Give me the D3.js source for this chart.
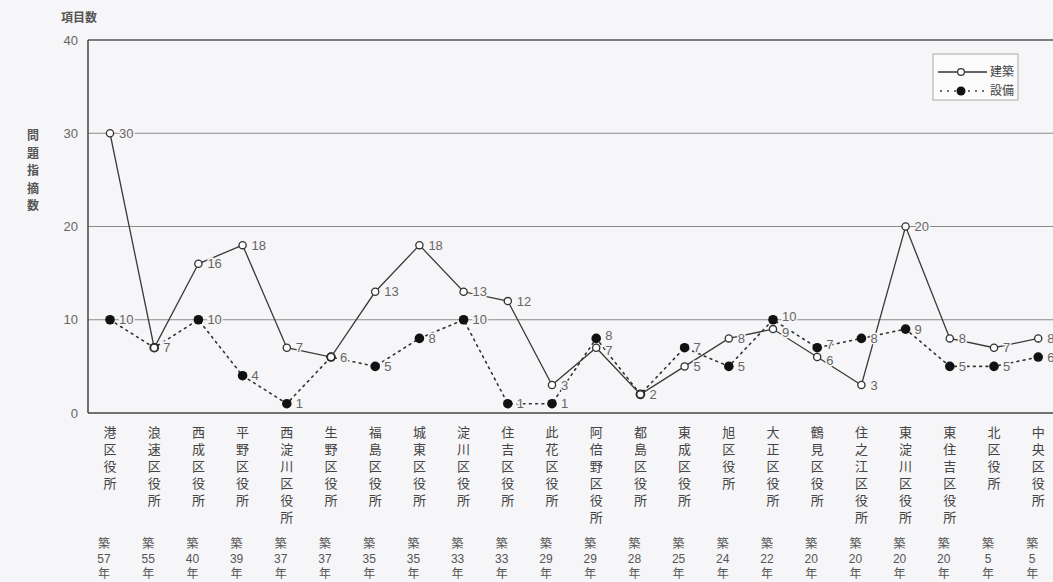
<!DOCTYPE html>
<html>
<head>
<meta charset="utf-8">
<script src="https://cdn.jsdelivr.net/npm/d3@7/dist/d3.min.js"></script>
<style>
  html, body { margin: 0; padding: 0; background: #f6f5f7; }
  svg { display: block; font-family: "Noto Sans CJK JP", "Noto Sans", sans-serif; }
</style>
</head>
<body>
<svg id="chart" width="1053" height="582"></svg>
<script>
// 区役所ごとの問題指摘数（建築・設備）と築年数
const offices = ["港区役所", "浪速区役所", "西成区役所", "平野区役所", "西淀川区役所", "生野区役所",
  "福島区役所", "城東区役所", "淀川区役所", "住吉区役所", "此花区役所", "阿倍野区役所",
  "都島区役所", "東成区役所", "旭区役所", "大正区役所", "鶴見区役所", "住之江区役所",
  "東淀川区役所", "東住吉区役所", "北区役所", "中央区役所"];
const buildingAges = [57, 55, 40, 39, 37, 37, 35, 35, 33, 33, 29, 29, 28, 25, 24, 22, 20, 20, 20, 20, 5, 5];
const kenchiku = [30, 7, 16, 18, 7, 6, 13, 18, 13, 12, 3, 7, 2, 5, 8, 9, 6, 3, 20, 8, 7, 8];
const setsubi = [10, 7, 10, 4, 1, 6, 5, 8, 10, 1, 1, 8, 2, 7, 5, 10, 7, 8, 9, 5, 5, 6];
const yTicks = [0, 10, 20, 30, 40];
const seriesNames = ["建築", "設備"];

const bg = "#f6f5f7";
const svg = d3.select("#chart");
const plotLeft = 88, plotTop = 40, plotBottom = 413;

const x = d3.scalePoint().domain(offices).range([110, 110 + 44.2 * 21]);
const y = d3.scaleLinear().domain([0, 40]).range([plotBottom, plotTop]);

// gridlines
svg.append("g").selectAll("line").data(yTicks.filter(t => t > 0 && t < 40)).join("line")
  .attr("x1", plotLeft).attr("x2", 1053)
  .attr("y1", d => y(d)).attr("y2", d => y(d))
  .attr("stroke", "#8a8a8a").attr("stroke-width", 1);

// frame: top, left, bottom
svg.append("line").attr("x1", plotLeft).attr("x2", 1053).attr("y1", y(40)).attr("y2", y(40))
  .attr("stroke", "#555").attr("stroke-width", 1.3);
svg.append("line").attr("x1", plotLeft).attr("x2", plotLeft).attr("y1", y(40)).attr("y2", y(0))
  .attr("stroke", "#444").attr("stroke-width", 1.5);
svg.append("line").attr("x1", plotLeft).attr("x2", 1053).attr("y1", y(0)).attr("y2", y(0))
  .attr("stroke", "#444").attr("stroke-width", 1.5);

// y axis tick labels
const yAxis = d3.axisLeft(y).tickValues(yTicks).tickSize(0).tickPadding(10);
const gy = svg.append("g").attr("transform", `translate(${plotLeft},0)`).call(yAxis);
gy.select(".domain").remove();
gy.selectAll("text").attr("font-family", "Liberation Sans, Arial, sans-serif")
  .attr("font-size", 13).attr("fill", "#666");

// axis titles
svg.append("text").attr("x", 61).attr("y", 22).attr("font-size", 12).attr("font-weight", "bold")
  .attr("fill", "#555").text("項目数");
const vTitle = "問題指摘数".split("");
svg.append("g").selectAll("text").data(vTitle).join("text")
  .attr("x", 33).attr("y", (d, i) => 140 + i * 17.5)
  .attr("text-anchor", "middle").attr("font-size", 12).attr("font-weight", "bold")
  .attr("fill", "#555").text(d => d);

// category labels, written vertically, with building age below
const catG = svg.append("g");
offices.forEach((name, i) => {
  catG.append("g").selectAll("text").data(name.split("")).join("text")
    .attr("x", x(name)).attr("y", (d, j) => 437 + j * 17)
    .attr("text-anchor", "middle").attr("font-size", 13).attr("fill", "#444")
    .text(d => d);
  const ax = x(name) - 6;
  const ag = catG.append("g").attr("fill", "#555").attr("text-anchor", "middle");
  ag.append("text").attr("x", ax).attr("y", 548).attr("font-size", 12).text("築");
  ag.append("text").attr("x", ax).attr("y", 563).attr("font-size", 12)
    .attr("font-family", "Liberation Sans, Arial, sans-serif").text(buildingAges[i]);
  ag.append("text").attr("x", ax).attr("y", 578).attr("font-size", 12).text("年");
});

// lines
const lineGen = d3.line().x((d, i) => x(offices[i])).y(d => y(d));
svg.append("path").datum(setsubi).attr("d", lineGen).attr("fill", "none")
  .attr("stroke", "#333").attr("stroke-width", 1.6).attr("stroke-dasharray", "1.8,4.5")
  .attr("stroke-linecap", "round");
svg.append("path").datum(kenchiku).attr("d", lineGen).attr("fill", "none")
  .attr("stroke", "#3a3a3a").attr("stroke-width", 1.3);

// markers
svg.append("g").selectAll("circle").data(setsubi).join("circle")
  .attr("cx", (d, i) => x(offices[i])).attr("cy", d => y(d)).attr("r", 4.8)
  .attr("fill", "#111");
svg.append("g").selectAll("circle").data(kenchiku).join("circle")
  .attr("cx", (d, i) => x(offices[i])).attr("cy", d => y(d)).attr("r", 3.6)
  .attr("fill", "#fff").attr("stroke", "#333").attr("stroke-width", 1.3);

// value labels; when the two series sit one unit apart, spread their labels a little
function valueLabels(values, other) {
  svg.append("g").selectAll("text").data(values).join("text")
    .attr("x", (d, i) => x(offices[i]) + 9)
    .attr("y", (d, i) => {
      const diff = d - other[i];
      const nudge = Math.abs(diff) === 1 ? (diff > 0 ? -3 : 3) : 0;
      return y(d) + 4.5 + nudge;
    })
    .attr("font-family", "Liberation Sans, Arial, sans-serif").attr("font-size", 13)
    .attr("fill", "#666").attr("stroke", bg).attr("stroke-width", 3)
    .attr("paint-order", "stroke").text(d => d);
}
valueLabels(setsubi, kenchiku);
valueLabels(kenchiku, setsubi);

// legend
const lg = svg.append("g").attr("transform", "translate(933,54)");
lg.append("rect").attr("width", 85).attr("height", 46).attr("fill", "#fbfbfc")
  .attr("stroke", "#aaa").attr("stroke-width", 1);
lg.append("line").attr("x1", 5).attr("x2", 54).attr("y1", 18).attr("y2", 18)
  .attr("stroke", "#333").attr("stroke-width", 1.3);
lg.append("circle").attr("cx", 28).attr("cy", 18).attr("r", 3.4)
  .attr("fill", "#fff").attr("stroke", "#333").attr("stroke-width", 1.2);
lg.append("line").attr("x1", 7).attr("x2", 54).attr("y1", 37).attr("y2", 37)
  .attr("stroke", "#444").attr("stroke-width", 1.4).attr("stroke-dasharray", "2,5");
lg.append("circle").attr("cx", 28).attr("cy", 37).attr("r", 4.5).attr("fill", "#111");
lg.selectAll("text.name").data(seriesNames).join("text").attr("class", "name")
  .attr("x", 57).attr("y", (d, i) => 22 + i * 19).attr("font-size", 12)
  .attr("fill", "#444").text(d => d);
</script>
</body>
</html>
